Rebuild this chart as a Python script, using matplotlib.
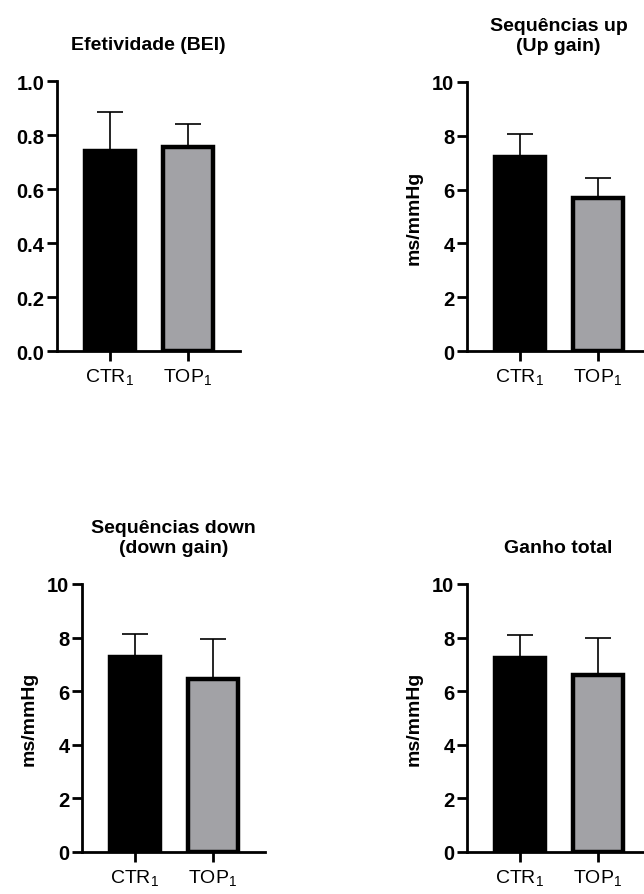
import matplotlib
matplotlib.use("Agg")
import matplotlib.pyplot as plt

plt.rcParams['font.family'] = ['Liberation Sans', 'DejaVu Sans']
plt.rcParams['mathtext.default'] = 'regular'

groups = ['CTR$_1$', 'TOP$_1$']
colors = ['#000000', '#a2a2a6']

titles = ['Efetividade (BEI)', 'Sequências up\n(Up gain)',
          'Sequências down\n(down gain)', 'Ganho total']
ylabels = ['', 'ms/mmHg', 'ms/mmHg', 'ms/mmHg']

bei_mean = [0.74, 0.755]
bei_err = [0.145, 0.085]
up_mean = [7.2, 5.68]
up_err = [0.85, 0.75]
down_mean = [7.27, 6.47]
down_err = [0.88, 1.48]
total_mean = [7.24, 6.6]
total_err = [0.87, 1.38]

means = [bei_mean, up_mean, down_mean, total_mean]
errs = [bei_err, up_err, down_err, total_err]
ylims = [(0, 1.0), (0, 10), (0, 10), (0, 10)]
yticks = [[0.0, 0.2, 0.4, 0.6, 0.8, 1.0], [0, 2, 4, 6, 8, 10],
          [0, 2, 4, 6, 8, 10], [0, 2, 4, 6, 8, 10]]
ytickfmt = ['{:.1f}', '{:d}', '{:d}', '{:d}']

W, H = 644, 895
# axes boxes in pixels: left, right, top, bottom
boxes = [(57, 240, 82, 352), (467, 650, 83, 352),
         (82, 265, 585, 853), (467, 650, 585, 853)]

fig = plt.figure(figsize=(W / 100, H / 100), dpi=100)

for i in range(4):
    l, r, t, b = boxes[i]
    ax = fig.add_axes([l / W, 1 - b / H, (r - l) / W, (b - t) / H])
    x = [0, 1]
    ax.bar(x, means[i], width=0.65, color=colors, edgecolor='black',
           linewidth=3.2, zorder=2)
    ax.errorbar(x, means[i], yerr=[[0, 0], errs[i]], fmt='none',
                ecolor='black', elinewidth=1.2, capsize=9.5, capthick=1.2,
                zorder=1)
    ax.set_xlim(-0.68, 1.67)
    ax.set_ylim(*ylims[i])
    ax.set_yticks(yticks[i])
    ax.set_yticklabels([ytickfmt[i].format(v) for v in yticks[i]],
                       fontsize=14.5, fontweight='bold')
    ax.set_xticks(x)
    ax.set_xticklabels(groups, fontsize=14)
    for s in ['top', 'right']:
        ax.spines[s].set_visible(False)
    for s in ['left', 'bottom']:
        ax.spines[s].set_linewidth(2.0)
    ax.tick_params(axis='both', width=2.0, length=7, pad=2)
    ax.tick_params(axis='x', pad=4)
    ax.set_title(titles[i], fontsize=14, fontweight='bold', pad=23,
                 linespacing=1.25)
    if ylabels[i]:
        ax.set_ylabel(ylabels[i], fontsize=14, fontweight='bold', labelpad=7)

plt.savefig("out.png", dpi=100)
